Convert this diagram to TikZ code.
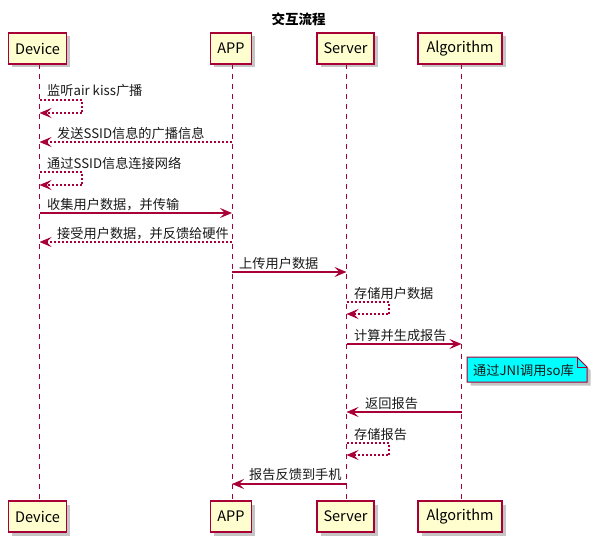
\documentclass[tikz,border=0pt]{standalone}
\usepackage{fontspec}
\setmainfont{Noto Sans CJK SC}
\usetikzlibrary{arrows.meta,shadows,shapes.misc}
\definecolor{pcrim}{HTML}{A80036}
\definecolor{pbox}{HTML}{FEFECE}
\definecolor{pnote}{HTML}{00FFFF}
\tikzset{
  part/.style={draw=pcrim,fill=pbox,line width=1.4pt,minimum height=31pt,inner sep=0pt,
    font=\fontsize{14.5}{16}\selectfont,
    drop shadow={shadow xshift=3.5pt,shadow yshift=-3.5pt,fill=black!45,opacity=.5}},
  life/.style={draw=pcrim,line width=1pt,dash pattern=on 5pt off 5pt},
  msg/.style={draw=pcrim,line width=1.1pt,-{Stealth[length=12pt,width=10pt,inset=5pt]}},
  ret/.style={msg,dash pattern=on 2pt off 2pt},
  lbl/.style={anchor=west,inner sep=0pt,font=\fontsize{13.2}{15}\selectfont,text=black!90},
}
\begin{document}
\begin{tikzpicture}[x=1pt,y=-1pt]
\useasboundingbox (0,0) rectangle (597,543);
% title
\node[font=\fontsize{13.5}{15}\selectfont\bfseries] (title) at (298.5,19) {交互流程};
% participants
\node[part,minimum width=58pt] (devT) at (37.5,48.5) {Device};
\node[part,minimum width=41pt] (appT) at (231,48.5) {APP};
\node[part,minimum width=57pt] (srvT) at (345.5,48.5) {Server};
\node[part,minimum width=84pt] (algT) at (460,48.5) {Algorithm};
\node[part,minimum width=58pt] (devB) at (37.5,516.5) {Device};
\node[part,minimum width=41pt] (appB) at (231,516.5) {APP};
\node[part,minimum width=57pt] (srvB) at (345.5,516.5) {Server};
\node[part,minimum width=84pt] (algB) at (460,516.5) {Algorithm};
% lifelines
\coordinate (dT) at (39.5,64); \coordinate (dB) at (39.5,501);
\coordinate (aT) at (232,64); \coordinate (aB) at (232,501);
\coordinate (sT) at (346.5,64); \coordinate (sB) at (346.5,501);
\coordinate (gT) at (461.5,64); \coordinate (gB) at (461.5,501);
\draw[life] (dT) -- (dB);
\draw[life] (aT) -- (aB);
\draw[life] (sT) -- (sB);
\draw[life] (gT) -- (gB);
% 1 self device
\coordinate (m1a) at (39.5,100); \coordinate (m1b) at (39.5,113);
\draw[ret] (m1a) -- (82,100) -- (82,113) -- (m1b);
\node[lbl] (t1) at (47,91) {监听air kiss广播};
% 2 APP -> Device
\coordinate (m2a) at (232,142); \coordinate (m2b) at (39.5,142);
\draw[ret] (m2a) -- (m2b);
\node[lbl] (t2) at (57,133) {发送SSID信息的广播信息};
% 3 self device
\coordinate (m3a) at (39.5,172); \coordinate (m3b) at (39.5,185);
\draw[ret] (m3a) -- (82,172) -- (82,185) -- (m3b);
\node[lbl] (t3) at (47,163) {通过SSID信息连接网络};
% 4 Device -> APP
\coordinate (m4a) at (39.5,213); \coordinate (m4b) at (232,213);
\draw[msg] (m4a) -- (m4b);
\node[lbl] (t4) at (47,204.5) {收集用户数据，并传输};
% 5 APP -> Device
\coordinate (m5a) at (232,242); \coordinate (m5b) at (39.5,242);
\draw[ret] (m5a) -- (m5b);
\node[lbl] (t5) at (57,233.5) {接受用户数据，并反馈给硬件};
% 6 APP -> Server
\coordinate (m6a) at (232,272); \coordinate (m6b) at (346.5,272);
\draw[msg] (m6a) -- (m6b);
\node[lbl] (t6) at (239,263.5) {上传用户数据};
% 7 self server
\coordinate (m7a) at (346.5,302); \coordinate (m7b) at (346.5,314);
\draw[ret] (m7a) -- (389,302) -- (389,314) -- (m7b);
\node[lbl] (t7) at (354,293) {存储用户数据};
% 8 Server -> Algorithm
\coordinate (m8a) at (346.5,344); \coordinate (m8b) at (461.5,344);
\draw[msg] (m8a) -- (m8b);
\node[lbl] (t8) at (354,335.5) {计算并生成报告};
% note
\fill[black!45,opacity=.5] (470.5,360.5) -- (580.5,360.5) -- (590.5,370.5) -- (590.5,385.5) -- (470.5,385.5) -- cycle;
\draw[pcrim,fill=pnote,line width=1pt] (467,357) -- (577,357) -- (587,367) -- (587,382) -- (467,382) -- cycle;
\draw[pcrim,line width=1pt] (577,357) -- (577,367) -- (587,367);
\node[lbl] (note) at (473,370.5) {通过JNI调用so库};
% 10 Algorithm -> Server
\coordinate (m10a) at (461.5,412); \coordinate (m10b) at (346.5,412);
\draw[msg] (m10a) -- (m10b);
\node[lbl] (t10) at (365,403.5) {返回报告};
% 11 self server
\coordinate (m11a) at (346.5,443); \coordinate (m11b) at (346.5,455);
\draw[ret] (m11a) -- (389,443) -- (389,455) -- (m11b);
\node[lbl] (t11) at (354,435) {存储报告};
% 12 Server -> APP
\coordinate (m12a) at (346.5,484); \coordinate (m12b) at (232,484);
\draw[msg] (m12a) -- (m12b);
\node[lbl] (t12) at (249,475) {报告反馈到手机};
\end{tikzpicture}
\end{document}
